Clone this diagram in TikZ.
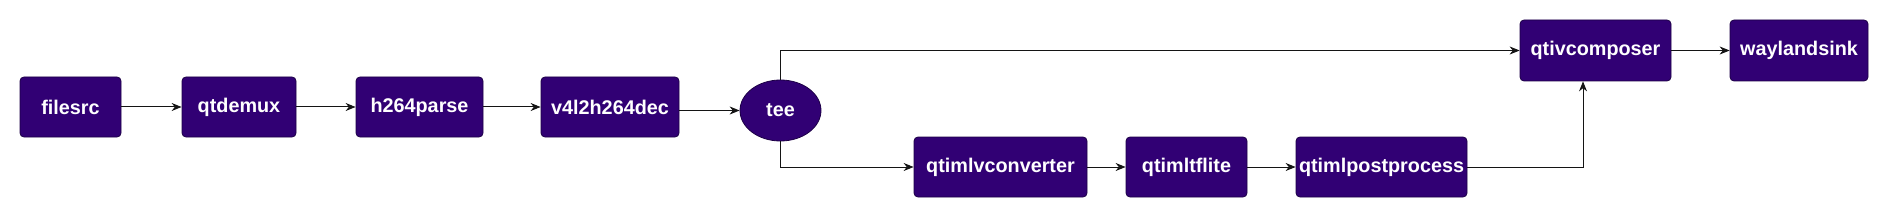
\documentclass[tikz,border=0pt]{standalone}
\usepackage{fontspec}
\setmainfont{Liberation Sans}
\usepackage{xcolor}
\definecolor{plugin}{RGB}{49, 0, 116}
\definecolor{edge}{RGB}{20, 20, 20}
\usepackage{tikz}
\usetikzlibrary{shapes.geometric,arrows.meta,positioning,calc}

\begin{document}
\begin{tikzpicture}[x=0.5pt, y=-0.5pt,
  plugbox/.style={draw=plugin!60!black, fill=plugin, rounded corners=2pt, line width=0.4pt, text=white, font=\fontsize{9.9}{12}\selectfont\bfseries, minimum height=30pt, inner sep=0pt},
  teebox/.style={ellipse, draw=plugin!60!black, fill=plugin, line width=0.4pt, text=white, font=\fontsize{9.9}{12}\selectfont\bfseries, minimum width=40.5pt, minimum height=30.5pt, inner sep=0pt},
  arrowstyle/.style={-{Stealth[length=5pt, width=4pt]}, line width=0.5pt, color=edge}
]
\useasboundingbox (0,0) rectangle (1888,219);

\node[plugbox, minimum width=50.5pt] (filesrc) at (70.5, 107) {filesrc};
\node[plugbox, minimum width=57pt] (qtdemux) at (239, 107) {qtdemux};
\node[plugbox, minimum width=63.5pt] (h264parse) at (419.5, 107) {h264parse};
\node[plugbox, minimum width=69pt] (v4l2h264dec) at (610, 107) {v4l2h264dec};
\node[teebox] (tee) at (780.5, 110.5) {tee};
\node[plugbox, minimum width=86.5pt] (qtimlvconverter) at (1000.5, 167) {qtimlvconverter};
\node[plugbox, minimum width=60.5pt] (qtimltflite) at (1186.5, 167) {qtimltflite};
\node[plugbox, minimum width=85.5pt] (qtimlpostprocess) at (1381.5, 167) {qtimlpostprocess};
\node[plugbox, minimum width=75.5pt, minimum height=30.5pt] (qtivcomposer) at (1595.5, 50.5) {qtivcomposer};
\node[plugbox, minimum width=69pt, minimum height=30.5pt] (waylandsink) at (1799, 50.5) {waylandsink};

\coordinate (join) at ($(qtivcomposer.south)+(-12.5,0)$);

\draw[arrowstyle] (filesrc) -- (qtdemux);
\draw[arrowstyle] (qtdemux) -- (h264parse);
\draw[arrowstyle] (h264parse) -- (v4l2h264dec);
\draw[arrowstyle] (v4l2h264dec.east |- tee.west) -- (tee.west);
\draw[arrowstyle] (tee.north) |- (qtivcomposer.west);
\draw[arrowstyle] (tee.south) |- (qtimlvconverter.west);
\draw[arrowstyle] (qtimlvconverter) -- (qtimltflite);
\draw[arrowstyle] (qtimltflite) -- (qtimlpostprocess);
\draw[arrowstyle] (qtimlpostprocess.east) -| (join);
\draw[arrowstyle] (qtivcomposer) -- (waylandsink);
\end{tikzpicture}
\end{document}
